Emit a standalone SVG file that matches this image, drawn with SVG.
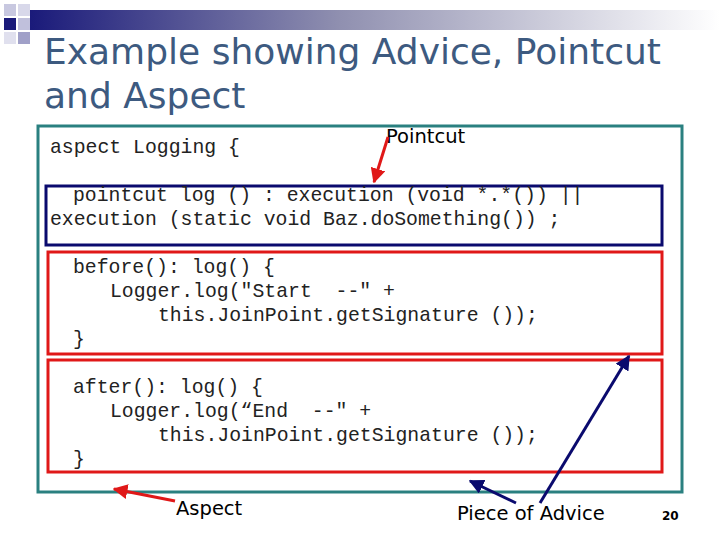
<svg xmlns="http://www.w3.org/2000/svg" width="720" height="540" viewBox="0 0 720 540">
<defs>
<linearGradient id="g" x1="0" x2="1"><stop offset="0" stop-color="#1a1a7a"/><stop offset="0.45" stop-color="#9090b0"/><stop offset="1" stop-color="#ffffff"/></linearGradient>
<marker id="ab" viewBox="0 0 10 10" refX="9" refY="5" markerWidth="5" markerHeight="5" orient="auto"><path d="M0,0L10,5L0,10z" fill="#0a0a6e"/></marker>
<marker id="ar" viewBox="0 0 10 10" refX="9" refY="5" markerWidth="5" markerHeight="5" orient="auto"><path d="M0,0L10,5L0,10z" fill="#e01818"/></marker>
<style>
.c{font-family:"Liberation Mono","Courier New",monospace;font-size:19.8px;fill:#222;white-space:pre}
.l{font-family:"DejaVu Sans",sans-serif;font-size:19.5px;fill:#000}
</style>
</defs>
<rect width="720" height="540" fill="#fff"/>
<rect x="30" y="10" width="690" height="20" fill="url(#g)"/>
<rect x="4" y="4" width="12" height="12" fill="#c8c8e0"/>
<rect x="18" y="4" width="12" height="12" fill="#d8d8ea"/>
<rect x="4" y="18" width="12" height="12" fill="#1a1a7a"/>
<rect x="18" y="18" width="12" height="12" fill="#c0c0dc"/>
<rect x="18" y="32" width="12" height="12" fill="#a0a0c8"/>
<rect x="4" y="32" width="12" height="12" fill="#e0e0ee"/>
<text x="44" y="64" font-family="DejaVu Sans,sans-serif" font-size="36" fill="#3d5a80">Example showing Advice, Pointcut</text>
<text x="44" y="108" font-family="DejaVu Sans,sans-serif" font-size="36" fill="#3d5a80">and Aspect</text>
<g id="outer"><rect x="38" y="126" width="644" height="366" fill="none" stroke="#2a8080" stroke-width="3"/>
<text class="c" x="50" y="153">aspect Logging {</text></g>
<g id="pointcut"><rect x="46" y="186" width="616" height="59" fill="none" stroke="#0a0a6e" stroke-width="3"/>
<text class="c" x="73" y="201">pointcut log () : execution (void *.*()) ||</text>
<text class="c" x="50" y="225">execution (static void Baz.doSomething()) ;</text></g>
<g id="before"><rect x="48" y="252" width="614" height="102" fill="none" stroke="#e01818" stroke-width="3"/>
<text class="c" x="73" y="273">before(): log() {</text>
<text class="c" x="110" y="297" xml:space="preserve">Logger.log("Start  --" +</text>
<text class="c" x="158" y="321">this.JoinPoint.getSignature ());</text>
<text class="c" x="73" y="345">}</text></g>
<g id="after"><rect x="48" y="360" width="614" height="112" fill="none" stroke="#e01818" stroke-width="3"/>
<text class="c" x="73" y="393">after(): log() {</text>
<text class="c" x="110" y="417" xml:space="preserve">Logger.log(“End  --" +</text>
<text class="c" x="158" y="441">this.JoinPoint.getSignature ());</text>
<text class="c" x="73" y="465">}</text></g>
<g id="labels">
<text class="l" x="386" y="143">Pointcut</text>
<text class="l" x="176" y="515">Aspect</text>
<text class="l" x="457" y="520">Piece of Advice</text>
<text x="662" y="520" font-family="DejaVu Sans,sans-serif" font-size="12" font-weight="bold">20</text>
</g>
<g id="connectors" stroke-width="3" fill="none">
<line x1="388" y1="137" x2="374" y2="182" stroke="#e01818" marker-end="url(#ar)"/>
<line x1="175" y1="501" x2="114" y2="489" stroke="#e01818" marker-end="url(#ar)"/>
<line x1="540" y1="503" x2="629" y2="356" stroke="#0a0a6e" marker-end="url(#ab)"/>
<line x1="516" y1="503" x2="470" y2="481" stroke="#0a0a6e" marker-end="url(#ab)"/>
</g>
</svg>
